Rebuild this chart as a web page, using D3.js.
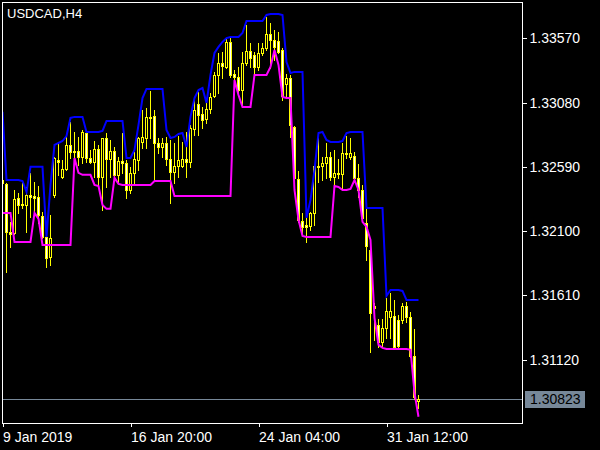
<!DOCTYPE html>
<html><head><meta charset="utf-8">
<script src="https://cdn.jsdelivr.net/npm/d3@7"></script>
<style>
html,body{margin:0;padding:0;background:#000;}
svg{display:block;}
text{font-family:"Liberation Sans",Arial,sans-serif;}
</style></head><body>
<svg id="c" width="600" height="450"></svg>
<script>
const symbolTitle = "USDCAD,H4";
const openS = [1.32490,1.32460,1.32094,1.32086,1.32353,1.32300,1.32300,1.32376,1.32368,1.32361,
1.32216,1.32056,1.31904,1.32376,1.32643,1.32514,1.32575,1.32757,1.32711,1.32711,
1.32666,1.32848,1.32658,1.32628,1.32726,1.32514,1.32810,1.32651,1.32711,1.32529,
1.32635,1.32620,1.32414,1.32544,1.32643,1.32780,1.32810,1.32971,1.32979,1.32772,
1.32742,1.32772,1.32651,1.32552,1.32597,1.32597,1.32651,1.32628,1.32879,1.33070,
1.32994,1.32956,1.33032,1.33130,1.33291,1.33382,1.33352,1.33542,1.33299,1.33276,
1.33176,1.33382,1.33473,1.33443,1.33352,1.33458,1.33496,1.33603,1.33557,1.33549,
1.33481,1.33222,1.33268,1.32895,1.32498,1.32178,1.32148,1.32140,1.32239,1.32597,
1.32597,1.32620,1.32666,1.32514,1.32544,1.32536,1.32696,1.32666,1.32673,1.32506,
1.32414,1.32163,1.31957,1.31530,1.31386,1.31256,1.31363,1.31447,1.31454,1.31424,
1.31424,1.31530,1.31447,1.31149,1.30806];
const highS = [1.32552,1.32467,1.32171,1.32414,1.32391,1.32467,1.32437,1.32544,1.32475,1.32444,
1.32247,1.32086,1.32224,1.32666,1.32772,1.32643,1.32818,1.32933,1.32856,1.32818,
1.32871,1.32856,1.32719,1.32787,1.32757,1.32810,1.32848,1.32795,1.32742,1.32666,
1.32848,1.32643,1.32590,1.32704,1.32818,1.33024,1.33039,1.33168,1.33024,1.32810,
1.32810,1.32818,1.32795,1.32772,1.32825,1.32780,1.32856,1.32910,1.33115,1.33161,
1.33047,1.33115,1.33153,1.33314,1.33458,1.33466,1.33572,1.33572,1.33329,1.33352,
1.33466,1.33672,1.33534,1.33466,1.33534,1.33534,1.33733,1.33687,1.33633,1.33618,
1.33496,1.33299,1.33291,1.32903,1.32559,1.32239,1.32209,1.32247,1.32605,1.32810,
1.32666,1.32772,1.32704,1.32719,1.32651,1.32772,1.32825,1.32810,1.32704,1.32613,
1.32452,1.32270,1.31987,1.31553,1.31432,1.31432,1.31591,1.31629,1.31576,1.31462,
1.31553,1.31561,1.31485,1.31355,1.30852];
const lowS = [1.32414,1.31790,1.31980,1.32079,1.32239,1.32277,1.32094,1.32209,1.32239,1.32163,
1.32048,1.31828,1.31843,1.32361,1.32529,1.32506,1.32567,1.32658,1.32620,1.32605,
1.32620,1.32628,1.32620,1.32514,1.32452,1.32262,1.32437,1.32514,1.32490,1.32467,
1.32544,1.32353,1.32391,1.32467,1.32567,1.32734,1.32734,1.32810,1.32490,1.32696,
1.32666,1.32605,1.32315,1.32467,1.32514,1.32590,1.32514,1.32590,1.32833,1.32833,
1.32887,1.32925,1.33001,1.33123,1.33153,1.33268,1.33344,1.33276,1.33176,1.33138,
1.33062,1.33367,1.33352,1.33291,1.33329,1.33443,1.33481,1.33344,1.33405,1.33458,
1.33100,1.33123,1.32818,1.32490,1.32171,1.32071,1.32018,1.32109,1.32148,1.32475,
1.32490,1.32506,1.32490,1.32452,1.32506,1.32429,1.32658,1.32651,1.32490,1.32361,
1.32186,1.31881,1.31180,1.31271,1.31218,1.31218,1.31286,1.31286,1.31210,1.31218,
1.31401,1.31409,1.31141,1.30822,1.30753];
const closeS = [1.32467,1.32094,1.32079,1.32345,1.32300,1.32308,1.32376,1.32361,1.32353,1.32224,
1.32056,1.31896,1.32048,1.32658,1.32628,1.32575,1.32757,1.32704,1.32704,1.32666,
1.32856,1.32658,1.32628,1.32726,1.32514,1.32810,1.32651,1.32711,1.32529,1.32635,
1.32620,1.32414,1.32544,1.32651,1.32810,1.32818,1.32971,1.32963,1.32772,1.32742,
1.32772,1.32651,1.32552,1.32597,1.32643,1.32651,1.32628,1.32887,1.33024,1.32986,
1.32948,1.33032,1.33123,1.33291,1.33382,1.33359,1.33542,1.33291,1.33276,1.33176,
1.33382,1.33473,1.33420,1.33352,1.33458,1.33496,1.33603,1.33557,1.33504,1.33466,
1.33130,1.33268,1.32910,1.32506,1.32186,1.32133,1.32133,1.32239,1.32597,1.32590,
1.32620,1.32666,1.32514,1.32544,1.32536,1.32696,1.32689,1.32696,1.32506,1.32414,
1.32201,1.31987,1.31477,1.31515,1.31256,1.31363,1.31492,1.31492,1.31218,1.31225,
1.31530,1.31447,1.31149,1.30837,1.30823];
const upperBand = [1.33009,1.32490,1.32490,1.32490,1.32490,1.32482,1.32399,1.32590,1.32590,1.32590,
1.32590,1.32056,1.32452,1.32757,1.32772,1.32787,1.32825,1.32963,1.32971,1.32971,
1.32971,1.32856,1.32856,1.32856,1.32856,1.32864,1.32940,1.32940,1.32940,1.32940,
1.32940,1.32658,1.32658,1.32719,1.32910,1.33115,1.33184,1.33184,1.33184,1.33184,
1.33184,1.32871,1.32810,1.32818,1.32841,1.32848,1.32742,1.32971,1.33115,1.33176,
1.33191,1.33077,1.33291,1.33458,1.33504,1.33542,1.33572,1.33580,1.33580,1.33580,
1.33610,1.33702,1.33702,1.33702,1.33702,1.33702,1.33748,1.33755,1.33755,1.33755,
1.33748,1.33389,1.33306,1.33314,1.33314,1.33314,1.32201,1.32338,1.32567,1.32848,
1.32856,1.32795,1.32780,1.32780,1.32780,1.32787,1.32848,1.32856,1.32856,1.32856,
1.32856,1.32277,1.32277,1.32277,1.32277,1.32277,1.31606,1.31652,1.31652,1.31652,
1.31644,1.31576,1.31576,1.31576,1.31576];
const lowerBand = [1.32239,1.32239,1.32239,1.32018,1.32018,1.32018,1.32018,1.32018,1.32239,1.32193,
1.31995,1.31995,1.31995,1.31995,1.31995,1.31995,1.31995,1.31995,1.32658,1.32544,
1.32529,1.32529,1.32529,1.32452,1.32444,1.32300,1.32270,1.32270,1.32506,1.32460,
1.32452,1.32452,1.32452,1.32452,1.32452,1.32452,1.32452,1.32452,1.32482,1.32482,
1.32482,1.32482,1.32482,1.32368,1.32368,1.32368,1.32368,1.32368,1.32368,1.32368,
1.32368,1.32368,1.32368,1.32368,1.32368,1.32368,1.32368,1.32368,1.33252,1.33138,
1.33047,1.33047,1.33047,1.33291,1.33291,1.33291,1.33291,1.33352,1.33481,1.33367,
1.33123,1.33115,1.33115,1.32414,1.32186,1.32063,1.32056,1.32056,1.32056,1.32056,
1.32056,1.32056,1.32056,1.32444,1.32437,1.32414,1.32414,1.32422,1.32490,1.32414,
1.32171,1.32133,1.32033,1.31439,1.31233,1.31210,1.31202,1.31202,1.31202,1.31202,
1.31202,1.31202,1.31195,1.30867,1.30685];
const yTicks = [1.33570,1.33080,1.32590,1.32100,1.31610,1.31120];
const xTickBars = [0,32,64,96];
const xTickLabels = ["9 Jan 2019","16 Jan 20:00","24 Jan 04:00","31 Jan 12:00"];
const lastPrice = 1.30823;

const svg = d3.select("#c");
svg.append("rect").attr("width",600).attr("height",450).attr("fill","#000");

const x = d3.scaleLinear().domain([0,130]).range([2.5,522.5]);
const y = d3.scaleLinear().domain([1.31120,1.33570]).range([359.7,38.3]);

svg.append("clipPath").attr("id","clip").append("rect")
  .attr("x",3).attr("y",3).attr("width",519).attr("height",420);
const plot = svg.append("g").attr("clip-path","url(#clip)");

// current price line
plot.append("line")
  .attr("x1",2).attr("x2",522)
  .attr("y1",Math.round(y(lastPrice))+0.5).attr("y2",Math.round(y(lastPrice))+0.5)
  .attr("stroke","#778899").attr("stroke-width",1);

// candles
const data = openS.map((o,i)=>({i,o,h:highS[i],l:lowS[i],c:closeS[i]}));
const cg = plot.append("g").attr("shape-rendering","crispEdges");
cg.selectAll("line.wick").data(data).join("line").attr("class","wick")
  .attr("x1",d=>x(d.i)).attr("x2",d=>x(d.i))
  .attr("y1",d=>Math.round(y(d.h))).attr("y2",d=>Math.round(y(d.l))+1)
  .attr("stroke","#ffff00").attr("stroke-width",1);
cg.selectAll("rect.body").data(data).join("rect").attr("class","body")
  .attr("x",d=>x(d.i)-1).attr("width",2)
  .attr("y",d=>Math.round(y(Math.max(d.o,d.c)))+0.5)
  .attr("height",d=>Math.max(0,Math.round(y(Math.min(d.o,d.c)))-Math.round(y(Math.max(d.o,d.c)))))
  .attr("fill",d=>d.c<d.o?"#ffffff":"#000000")
  .attr("stroke","#ffff00").attr("stroke-width",1);

// indicator lines
const line = d3.line().x((d,i)=>x(i)).y(d=>y(d));
plot.append("path").datum(upperBand).attr("d",line)
  .attr("fill","none").attr("stroke","#0000ff").attr("stroke-width",2);
plot.append("path").datum(lowerBand).attr("d",line)
  .attr("fill","none").attr("stroke","#ff00ff").attr("stroke-width",2);

// border
svg.append("rect").attr("x",2.5).attr("y",2.5).attr("width",520).attr("height",421)
  .attr("fill","none").attr("stroke","#ffffff").attr("stroke-width",1)
  .attr("shape-rendering","crispEdges");

// right axis
const ya = d3.axisRight(y).tickValues(yTicks).tickSize(4).tickPadding(3)
  .tickFormat(d3.format(".5f"));
const gy = svg.append("g").attr("transform","translate(522.5,0)").call(ya);
gy.select(".domain").remove();
gy.selectAll(".tick line").attr("stroke","#ffffff").attr("shape-rendering","crispEdges");
gy.selectAll(".tick text").attr("fill","#ffffff").style("font-size","14px")
  .style("font-family","'Liberation Sans',Arial,sans-serif");

// bottom axis
const xa = d3.axisBottom(x).tickValues(xTickBars).tickSize(4).tickPadding(5)
  .tickFormat((d,i)=>xTickLabels[i]);
const gx = svg.append("g").attr("transform","translate(0,423)").call(xa);
gx.select(".domain").remove();
gx.selectAll(".tick line").attr("stroke","#ffffff").attr("shape-rendering","crispEdges");
gx.selectAll(".tick text").attr("fill","#ffffff").attr("text-anchor","start")
  .style("font-size","14px").style("font-family","'Liberation Sans',Arial,sans-serif");

// last price label
const ly = Math.round(y(lastPrice));
svg.append("rect").attr("x",525).attr("y",ly-8).attr("width",60).attr("height",17)
  .attr("fill","#778899");
svg.append("text").attr("x",530).attr("y",ly+5).attr("fill","#000000")
  .style("font-size","14px").text(d3.format(".5f")(lastPrice));

// title
svg.append("text").attr("x",7).attr("y",18).attr("fill","#ffffff")
  .style("font-size","13px").text(symbolTitle);
</script>
</body></html>
